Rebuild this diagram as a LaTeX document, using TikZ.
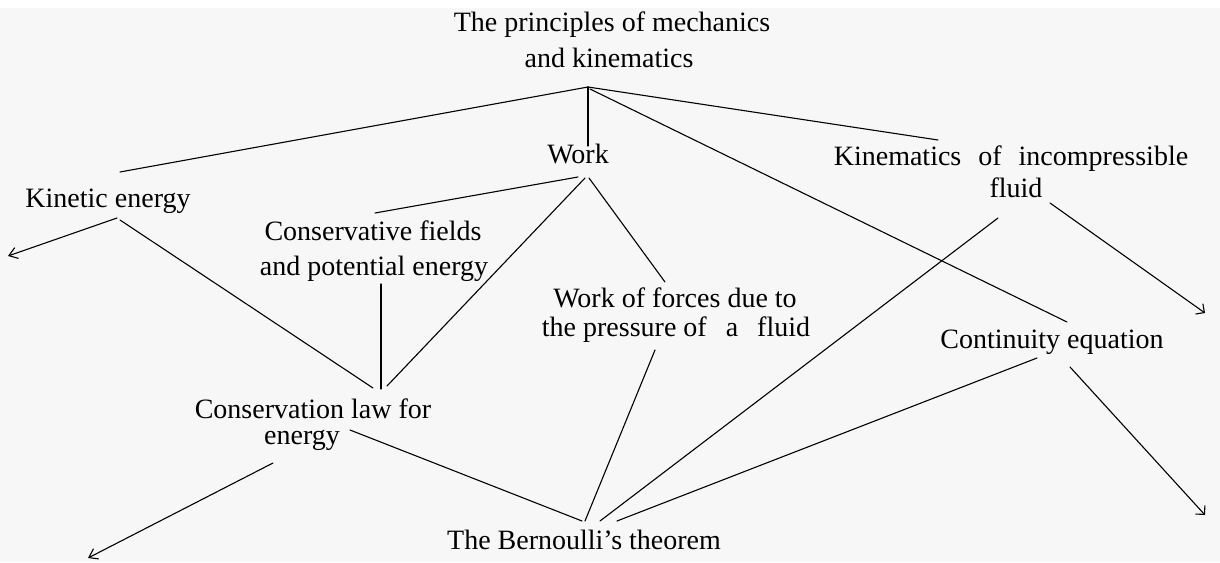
\documentclass[tikz,border=0pt]{standalone}
\usepackage{fontspec}
\setmainfont{Liberation Serif}
\usetikzlibrary{arrows.meta}
\definecolor{bgc}{RGB}{247,247,247}
\begin{document}
\begin{tikzpicture}[x=1pt,y=-1pt,
  lbl/.style={anchor=base, inner sep=0pt, font=\fontsize{28}{36}\selectfont},
  conn/.style={line width=1.1pt, line cap=round},
  tipl/.style={-{Straight Barb[angle=70:10pt]}},
  tipr/.style={-{Straight Barb[angle=90:9pt]}}]
\fill[white] (0,0) rectangle (1220,562);
\fill[bgc] (0,8) rectangle (1220,562);
\useasboundingbox (0,0) rectangle (1220,562);

% texts
\node[lbl] (top1) at (612,31) {The principles of mechanics};
\node[lbl] (top2) at (609,67) {and kinematics};
\node[lbl] (work) at (578,163) {Work};
\node[lbl] (kin1) at (1011,165) {Kinematics\hspace{10pt} of\hspace{10pt} incompressible};
\node[lbl] (kin2) at (1016,197) {fluid};
\node[lbl] (kinet) at (108,207) {Kinetic energy};
\node[lbl] (cons1) at (373,240) {Conservative fields};
\node[lbl] (cons2) at (374,275) {and potential energy};
\node[lbl] (wf1) at (675,307) {Work of forces due to};
\node[lbl] (wf2) at (676,336) {the pressure of\hspace{12pt} a\hspace{12pt} fluid};
\node[lbl] (cont) at (1052,348) {Continuity equation};
\node[lbl] (law1) at (313,418) {Conservation law for};
\node[lbl] (law2) at (302,444) {energy};
\node[lbl] (bern) at (584,549) {The Bernoulli's theorem};

% connector end points
\coordinate (apex) at (588,87);
\coordinate (apexR) at (590,89);
\coordinate (kinetTop) at (120,172);
\coordinate (workTop) at (588,146);
\coordinate (kinTop) at (938,140);
\coordinate (contTop) at (1067,322);
\coordinate (workB1) at (578,177);
\coordinate (workB2) at (585,178);
\coordinate (workB3) at (589,178);
\coordinate (consTop) at (375,213);
\coordinate (lawTopA) at (373,388);
\coordinate (lawTopB) at (387,386);
\coordinate (lawTopC) at (381,389);
\coordinate (consBot) at (381,284);
\coordinate (wfTop) at (665,282);
\coordinate (kinetL) at (117,218);
\coordinate (kinetR) at (120,220);
\coordinate (arrKinet) at (8,256);
\coordinate (fluidR) at (1050,203);
\coordinate (arrFluid) at (1205,313);
\coordinate (fluidL) at (998,218);
\coordinate (wfBot) at (655,350);
\coordinate (contL) at (1037,358);
\coordinate (contR) at (1070,367);
\coordinate (arrCont) at (1205,515);
\coordinate (lawR) at (350,430);
\coordinate (lawB) at (273,463);
\coordinate (arrLaw) at (88,558);
\coordinate (bernA) at (582,521);
\coordinate (bernB) at (585,521);
\coordinate (bernC) at (600,521);
\coordinate (bernD) at (617,521);

% connectors
\draw[conn] (apex) -- (kinetTop);
\draw[conn] (apex) -- (workTop);
\draw[conn] (apex) -- (kinTop);
\draw[conn] (apexR) -- (contTop);
\draw[conn] (workB1) -- (consTop);
\draw[conn] (workB2) -- (lawTopB);
\draw[conn] (workB3) -- (wfTop);
\draw[conn] (kinetR) -- (lawTopA);
\draw[conn,tipl] (kinetL) -- (arrKinet);
\draw[conn] (consBot) -- (lawTopC);
\draw[conn,tipr] (fluidR) -- (arrFluid);
\draw[conn] (fluidL) -- (bernC);
\draw[conn] (wfBot) -- (bernB);
\draw[conn] (contL) -- (bernD);
\draw[conn,tipr] (contR) -- (arrCont);
\draw[conn] (lawR) -- (bernA);
\draw[conn,tipl] (lawB) -- (arrLaw);
\end{tikzpicture}
\end{document}
